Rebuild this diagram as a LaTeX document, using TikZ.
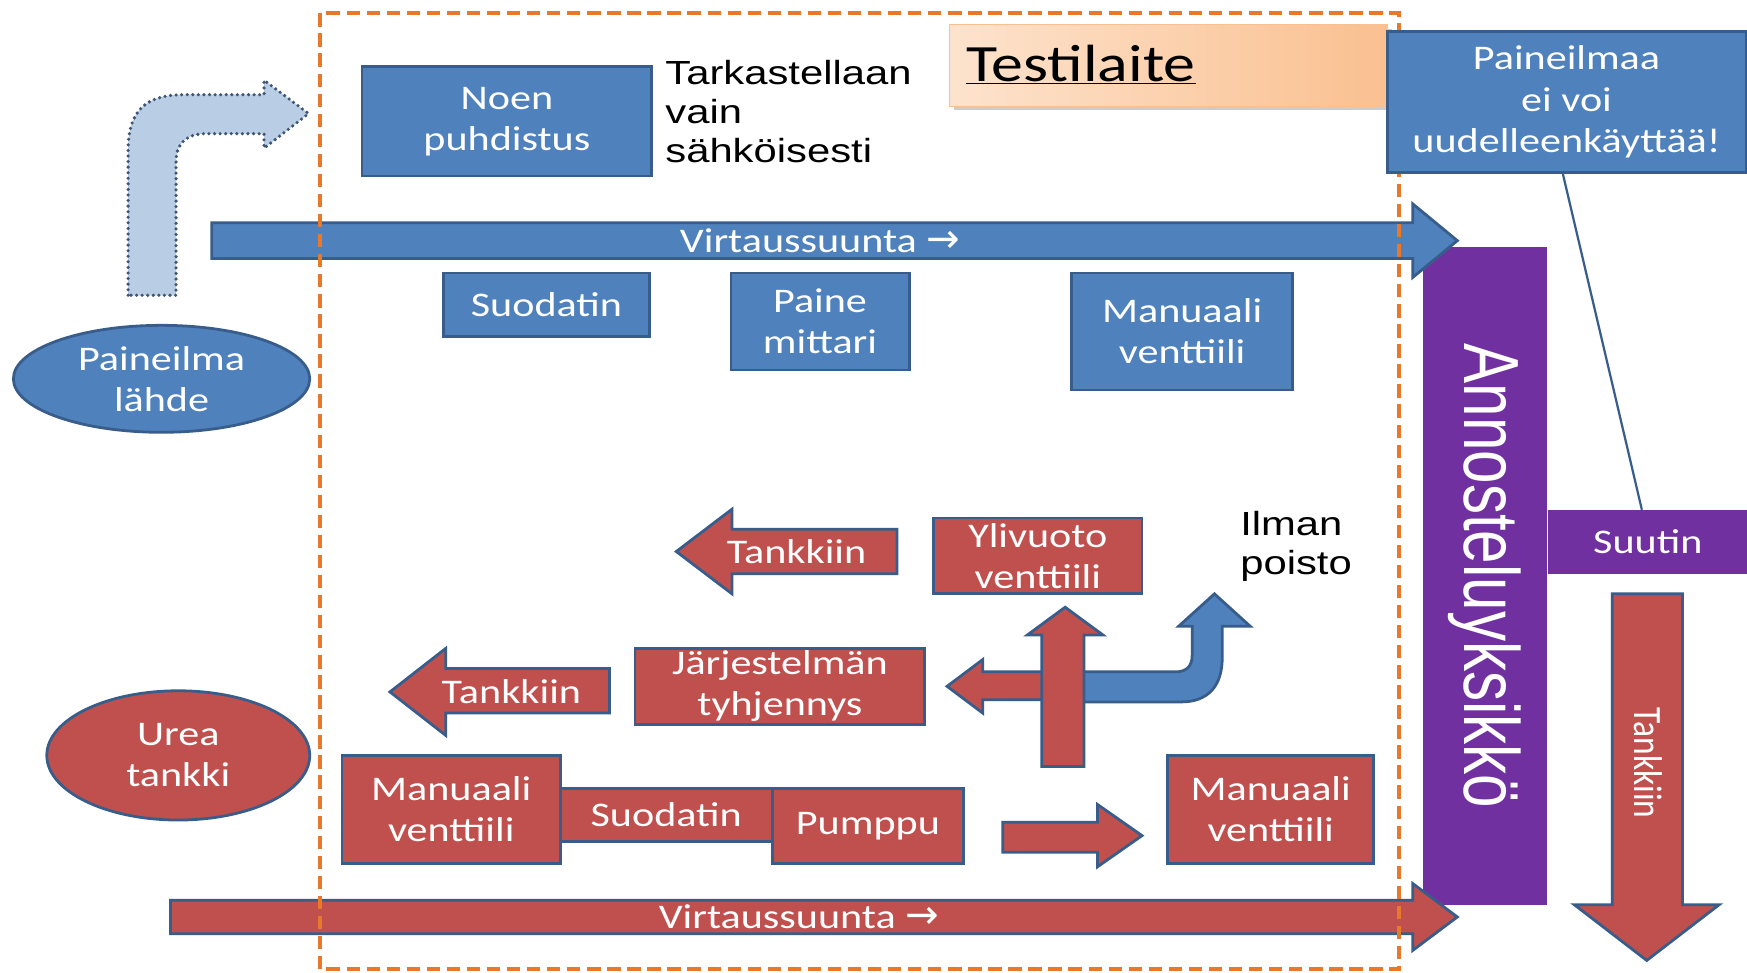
\documentclass[tikz,border=0pt]{standalone}
\usepackage{fontspec}
\setmainfont{Carlito}[FakeStretch=1.22]
\newfontfamily\arialf{Liberation Sans}[FakeStretch=1.25]
\newfontfamily\arialplain{Liberation Sans}
\newfontfamily\calplain{Carlito}
\newfontfamily\symf{DejaVu Sans}
\usetikzlibrary{shapes.geometric,calc}
\definecolor{blueF}{HTML}{4F81BD}
\definecolor{redF}{HTML}{C0504D}
\definecolor{bordc}{HTML}{385D8A}
\definecolor{purpF}{HTML}{7030A0}
\definecolor{orangeD}{HTML}{E8782A}
\definecolor{lightB}{HTML}{B9CDE5}
\definecolor{dotB}{HTML}{3F5577}
\definecolor{peachA}{HTML}{FDE3CD}
\definecolor{peachB}{HTML}{FAC090}
\newcommand\bxfont{\fontsize{31}{37}\selectfont}
\newcommand\arfont{\arialf\fontsize{30}{35}\selectfont}
\newcommand\rarr{{\symf\fontsize{36}{36}\selectfont →}}
\tikzset{
  bbox/.style={draw=bordc, line width=2.5pt, fill=blueF, text=white, font=\bxfont, align=center, inner sep=0pt},
  rbox/.style={bbox, fill=redF},
  pbox/.style={draw=purpF, line width=1pt, fill=purpF, text=white, align=center, inner sep=0pt},
  barrow/.style={draw=bordc, line width=2.5pt, fill=blueF, line join=miter},
  rarrow/.style={draw=bordc, line width=2.5pt, fill=redF, line join=miter},
  atext/.style={text=white, font=\bxfont, inner sep=0pt},
  plaintext/.style={text=black, font=\arfont, align=left, inner sep=0pt}
}
\begin{document}
\begin{tikzpicture}[x=1pt,y=-1pt]
\useasboundingbox (0,0) rectangle (1568,873);
\fill[white] (0,0) rectangle (1568,873);

% purple dosing unit and nozzle
\node[pbox, minimum width=110pt, minimum height=590pt] (annos) at (1333,517)
  {\rotatebox{-90}{\scalebox{1}[1.3]{\arialplain\fontsize{54}{60}\selectfont Annosteluyksikkö}}};
\node[pbox, minimum width=178pt, minimum height=57pt, font=\bxfont] (suutin) at (1479,486.5) {Suutin};

% flow arrows
\draw[barrow] (190,200) -- (1268,200) -- (1268,183) -- (1308,216) -- (1268,249) -- (1268,232) -- (190,232) -- cycle;
\node[atext] (vt1) at (736,216) {Virtaussuunta \rarr};
\draw[rarrow] (153,808) -- (1268,808) -- (1268,793) -- (1308,823) -- (1268,853) -- (1268,838) -- (153,838) -- cycle;
\node[atext] (vt2) at (717,823) {Virtaussuunta \rarr};

% dashed frame
\draw[orangeD, line width=3.5pt, dash pattern=on 12pt off 6pt] (287,12) rectangle (1256,870);

% dotted light blue bent arrow
\draw[fill=lightB, draw=dotB, line width=3.2pt, dash pattern=on 0pt off 5pt, line cap=round, line join=round]
  (115,265) -- (115,135) .. controls (115,100) and (130,85) .. (165,85) -- (237,85) -- (237,72)
  -- (277,102) -- (237,133) -- (237,120) -- (185,120) .. controls (168,120) and (158,128) .. (158,145)
  -- (158,265) -- cycle;

% source ellipses
\node[bbox, ellipse, minimum width=266pt, minimum height=96pt] (lahde) at (145,340) {Paineilma\\lähde};
\node[rbox, ellipse, minimum width=236pt, minimum height=116pt] (urea) at (160,678) {Urea\\tankki};

% blue boxes
\node[bbox, minimum width=260pt, minimum height=98pt] (noen) at (455,109) {Noen\\puhdistus};
\node[plaintext, anchor=west] (tark) at (597,100) {Tarkastellaan\\vain\\sähköisesti};
\node[bbox, minimum width=185pt, minimum height=57pt] (suob) at (490.5,273.5) {Suodatin};
\node[bbox, minimum width=160pt, minimum height=87pt] (paine) at (736,288.5) {Paine\\mittari};
\node[bbox, minimum width=198pt, minimum height=105pt] (manb) at (1061,297.5) {Manuaali\\venttiili};

% Testilaite
\fill[black!20] (856,26) rectangle (1249,99);
\shade[left color=peachA, right color=peachB, draw=peachB] (852,22) rectangle (1245,95);
\node[anchor=west, inner sep=0pt, font=\fontsize{47}{50}\selectfont] (testi) at (867,58) {\underline{Testilaite}};

% note box
\node[bbox, minimum width=322pt, minimum height=127pt] (paineilmaa) at (1406,91.5) {Paineilmaa\\ei voi\\uudelleenkäyttää!};
\draw[bordc, line width=2pt] ($(paineilmaa.south west)!0.49!(paineilmaa.south east)$) -- ($(suutin.north west)!0.47!(suutin.north east)$);

% down arrow to tank
\draw[rarrow] (1447,533) -- (1510,533) -- (1510,812) -- (1543,812) -- (1478,862) -- (1413,812) -- (1447,812) -- cycle;
\node[text=white, inner sep=0pt] (tank4) at (1479,685) {\rotatebox{-90}{\scalebox{1}[1.2]{\calplain\fontsize{30}{32}\selectfont Tankkiin}}};

% red left arrows
\draw[rarrow] (805,475) -- (657,475) -- (657,457) -- (607,495) -- (657,533) -- (657,515) -- (805,515) -- cycle;
\node[atext] (tank1) at (715,495) {Tankkiin};
\draw[rarrow] (547,600) -- (400,600) -- (400,582) -- (350,621) -- (400,660) -- (400,640) -- (547,640) -- cycle;
\node[atext] (tank2) at (459,621) {Tankkiin};

% red boxes
\node[rbox, minimum width=260pt, minimum height=68pt] (jarj) at (700,616) {Järjestelmän\\tyhjennys};
\node[rbox, minimum width=187pt, minimum height=68pt] (yli) at (931.5,499) {Ylivuoto\\venttiili};
\node[plaintext, anchor=west] (ilman) at (1113,490) {Ilman\\poisto};

% cross of arrows
\draw[barrow] (960,603) -- (1055,603) .. controls (1065,603) and (1070,598) .. (1070,588) -- (1070,562)
  -- (1058,562) -- (1090,533) -- (1122,562) -- (1097,562) -- (1097,590)
  .. controls (1097,615) and (1085,630) .. (1060,630) -- (960,630) -- cycle;
\draw[rarrow] (945,603) -- (882,603) -- (882,592) -- (850,616) -- (882,640) -- (882,628) -- (945,628) -- cycle;
\draw[rarrow] (935,688) -- (935,570) -- (922,570) -- (956,545) -- (990,570) -- (973,570) -- (973,688) -- cycle;

% pump line
\node[rbox, minimum width=190pt, minimum height=47pt] (suor) at (598,731.5) {Suodatin};
\node[rbox, minimum width=196pt, minimum height=97pt] (manl) at (405,726.5) {Manuaali\\venttiili};
\node[rbox, minimum width=172pt, minimum height=67pt] (pump) at (779,741.5) {Pumppu};
\draw[rarrow] (900,738) -- (985,738) -- (985,722) -- (1025,750) -- (985,778) -- (985,765) -- (900,765) -- cycle;
\node[rbox, minimum width=185pt, minimum height=97pt] (manr) at (1140.5,726.5) {Manuaali\\venttiili};
\end{tikzpicture}
\end{document}
